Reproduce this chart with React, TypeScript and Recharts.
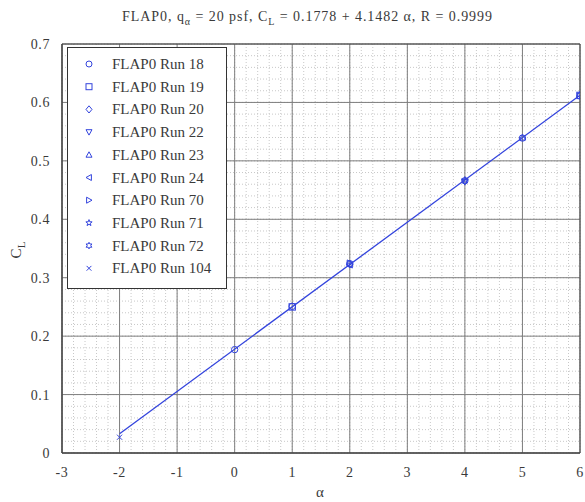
import React from "react";
import { ScatterChart, Scatter, XAxis, YAxis, CartesianGrid, ReferenceArea } from "recharts";

const xTicks = [-3, -2, -1, 0, 1, 2, 3, 4, 5, 6];
const yTicks = [0, 0.1, 0.2, 0.3, 0.4, 0.5, 0.6, 0.7];
const fitLine = [
  { a: -2, cl: 0.033 },
  { a: 6, cl: 0.6122 },
];

type Pt = { a: number; cl: number };
const run18: Pt[] = [
  { a: 0, cl: 0.177 }, { a: 1, cl: 0.251 }, { a: 2, cl: 0.324 },
  { a: 4, cl: 0.466 }, { a: 5, cl: 0.539 }, { a: 6, cl: 0.611 },
];
const run19: Pt[] = [{ a: 1, cl: 0.25 }, { a: 6, cl: 0.612 }];
const run20: Pt[] = [{ a: 2, cl: 0.323 }];
const run22: Pt[] = [{ a: 4, cl: 0.464 }];
const run23: Pt[] = [{ a: 5, cl: 0.54 }];
const run24: Pt[] = [{ a: 2, cl: 0.322 }];
const run70: Pt[] = [{ a: 2, cl: 0.325 }];
const run71: Pt[] = [{ a: 4, cl: 0.467 }];
const run72: Pt[] = [{ a: 6, cl: 0.613 }];
const run104: Pt[] = [{ a: -2, cl: 0.027 }];

const runs = [
  { name: "FLAP0 Run 18", marker: "circle", data: run18 },
  { name: "FLAP0 Run 19", marker: "square", data: run19 },
  { name: "FLAP0 Run 20", marker: "diamond", data: run20 },
  { name: "FLAP0 Run 22", marker: "down", data: run22 },
  { name: "FLAP0 Run 23", marker: "up", data: run23 },
  { name: "FLAP0 Run 24", marker: "left", data: run24 },
  { name: "FLAP0 Run 70", marker: "right", data: run70 },
  { name: "FLAP0 Run 71", marker: "star", data: run71 },
  { name: "FLAP0 Run 72", marker: "hex", data: run72 },
  { name: "FLAP0 Run 104", marker: "x", data: run104 },
];

const BLUE = "#3344dd";
const FONT = '"Liberation Serif", "Times New Roman", serif';
const TEXT = "#3a3a3a";

function marker(type: string, cx: number, cy: number, s = 3.2, key?: string) {
  const p = { stroke: BLUE, strokeWidth: 1, fill: "none", key };
  switch (type) {
    case "circle":
      return <circle {...p} cx={cx} cy={cy} r={s} />;
    case "square":
      return <rect {...p} x={cx - s} y={cy - s} width={2 * s} height={2 * s} />;
    case "diamond":
      return <polygon {...p} points={`${cx},${cy - s * 1.2} ${cx + s},${cy} ${cx},${cy + s * 1.2} ${cx - s},${cy}`} />;
    case "down":
      return <polygon {...p} points={`${cx - s},${cy - s * 0.8} ${cx + s},${cy - s * 0.8} ${cx},${cy + s}`} />;
    case "up":
      return <polygon {...p} points={`${cx - s},${cy + s * 0.8} ${cx + s},${cy + s * 0.8} ${cx},${cy - s}`} />;
    case "left":
      return <polygon {...p} points={`${cx + s * 0.8},${cy - s} ${cx + s * 0.8},${cy + s} ${cx - s},${cy}`} />;
    case "right":
      return <polygon {...p} points={`${cx - s * 0.8},${cy - s} ${cx - s * 0.8},${cy + s} ${cx + s},${cy}`} />;
    case "star": {
      const pts: string[] = [];
      for (let i = 0; i < 10; i++) {
        const r = i % 2 === 0 ? s * 1.1 : s * 0.45;
        const ang = -Math.PI / 2 + (i * Math.PI) / 5;
        pts.push(`${cx + r * Math.cos(ang)},${cy + r * Math.sin(ang)}`);
      }
      return <polygon {...p} points={pts.join(" ")} />;
    }
    case "hex": {
      const pts: string[] = [];
      for (let i = 0; i < 12; i++) {
        const r = i % 2 === 0 ? s * 1.1 : s * 0.6;
        const ang = -Math.PI / 2 + (i * Math.PI) / 6;
        pts.push(`${cx + r * Math.cos(ang)},${cy + r * Math.sin(ang)}`);
      }
      return <polygon {...p} points={pts.join(" ")} />;
    }
    case "x":
    default:
      return (
        <g key={key} stroke={BLUE} strokeWidth={1}>
          <line x1={cx - s * 0.8} y1={cy - s * 0.8} x2={cx + s * 0.8} y2={cy + s * 0.8} />
          <line x1={cx - s * 0.8} y1={cy + s * 0.8} x2={cx + s * 0.8} y2={cy - s * 0.8} />
        </g>
      );
  }
}

const minorX: number[] = [];
for (let i = 0; i <= 45; i++) minorX.push(-3 + i * 0.2);
const minorY: number[] = [];
for (let i = 0; i <= 35; i++) minorY.push(i * 0.02);

const W = 585;
const H = 502;
const tickStyle = { fill: TEXT, fontSize: 14, fontFamily: FONT, letterSpacing: 0.6 };

export default function App() {
  return (
    <div style={{ position: "absolute", left: 0, top: 0, width: W, height: H, background: "#fff" }}>
      <ScatterChart
        width={W}
        height={H}
        margin={{ top: 44, right: 5, bottom: 19, left: 22 }}
      >
        <XAxis
          type="number"
          dataKey="a"
          domain={[-3, 6]}
          ticks={xTicks}
          allowDataOverflow
          interval={0}
          height={30}
          tickLine={false}
          axisLine={{ stroke: "#444" }}
          tick={tickStyle}
          tickMargin={8}
        />
        <YAxis
          type="number"
          dataKey="cl"
          domain={[0, 0.7]}
          ticks={yTicks}
          allowDataOverflow
          interval={0}
          width={40}
          tickLine={false}
          axisLine={{ stroke: "#444" }}
          tick={tickStyle}
          tickMargin={6}
        />
        <CartesianGrid
          verticalValues={minorX}
          horizontalValues={minorY}
          stroke="#c8c8c8"
          strokeDasharray="1 2"
        />
        <CartesianGrid
          verticalValues={xTicks}
          horizontalValues={yTicks}
          stroke="#7e7e7e"
        />
        <ReferenceArea x1={-3} x2={6} y1={0} y2={0.7} fill="none" stroke="#444" ifOverflow="visible" />
        <Scatter
          data={fitLine}
          line={{ stroke: BLUE, strokeWidth: 1.3 }}
          shape={() => <g />}
          isAnimationActive={false}
        />
        {runs.map((r) => (
          <Scatter
            key={r.name}
            name={r.name}
            data={r.data}
            isAnimationActive={false}
            shape={(props: any) => marker(r.marker, props.cx, props.cy)}
          />
        ))}
      </ScatterChart>
      <svg
        width={W}
        height={H}
        style={{ position: "absolute", left: 0, top: 0, pointerEvents: "none" }}
        fontFamily={FONT}
      >
        <text x={122} y={21} textAnchor="start" fontSize={14} fill={TEXT} textLength={370} lengthAdjust="spacing">
          FLAP0, q
          <tspan fontSize={10} dy={4}>α</tspan>
          <tspan dy={-4}> = 20 psf, C</tspan>
          <tspan fontSize={10} dy={4}>L</tspan>
          <tspan dy={-4}> = 0.1778 + 4.1482  α, R = 0.9999</tspan>
        </text>
        <text x={320} y={497} textAnchor="middle" fontSize={15} fill={TEXT}>α</text>
        <text transform="translate(21,250) rotate(-90)" textAnchor="middle" fontSize={15} fill={TEXT}>
          C<tspan fontSize={11} dy={4}>L</tspan>
        </text>
        <rect x={67.5} y={47.5} width={159} height={241} fill="#fff" stroke="#333" strokeWidth={1} />
        {runs.map((r, i) => {
          const cy = 64 + i * 22.7;
          return (
            <g key={r.name}>
              {marker(r.marker, 89, cy, 3)}
              <text x={112} y={cy + 5} fontSize={15} fill={TEXT}>{r.name}</text>
            </g>
          );
        })}
      </svg>
    </div>
  );
}
